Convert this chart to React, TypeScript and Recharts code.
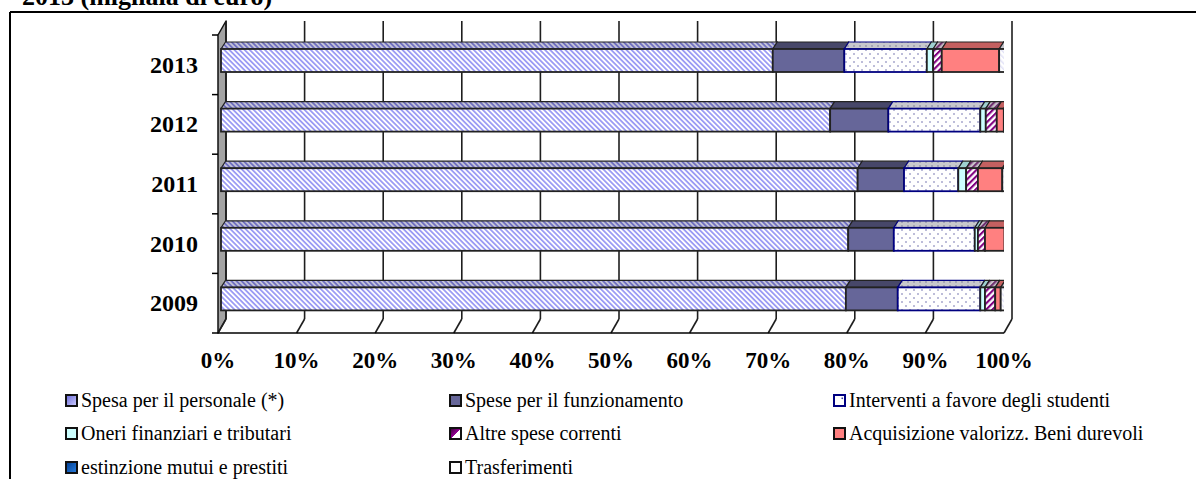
import React from 'react';
import { BarChart, Bar, XAxis, YAxis, CartesianGrid, Legend } from 'recharts';

// ---------- data ----------
const years = ['2013', '2012', '2011', '2010', '2009'];
const personale = [70.2, 77.5, 81.0, 79.8, 79.5];
const funzionamento = [9.1, 7.4, 5.9, 5.8, 6.6];
const studenti = [10.5, 11.7, 6.9, 10.3, 10.5];
const oneri = [0.8, 0.7, 1.0, 0.4, 0.6];
const altre = [1.1, 1.4, 1.5, 0.9, 1.3];
const acquisizione = [7.3, 0.9, 3.1, 2.5, 0.7];
const estinzione = [0, 0, 0, 0, 0];
const trasferimenti = [1.0, 0.4, 0.6, 0.3, 0.8];
const xTicks = [0, 10, 20, 30, 40, 50, 60, 70, 80, 90, 100];

const data = years.map((year, i) => ({
  year,
  personale: personale[i],
  funzionamento: funzionamento[i],
  studenti: studenti[i],
  oneri: oneri[i],
  altre: altre[i],
  acquisizione: acquisizione[i],
  estinzione: estinzione[i],
  trasferimenti: trasferimenti[i],
}));

// ---------- layout / style ----------
const W = 1196;
const H = 479;
const PLOT_LEFT = 218;
const PLOT_RIGHT = 1004;
const PLOT_TOP = 35;
const PLOT_BOTTOM = 333;
const XAXIS_H = 30;
const YAXIS_W = 60;
const DEPTH_X = 8;
const DEPTH_Y = 14;
const BAR_OX = 3;
const BAR_OY = -4;
const BAR_DX = 4.5;
const BAR_DY = 7;
const BAND = (PLOT_BOTTOM - PLOT_TOP) / years.length;
const FONT = '"Liberation Serif", "Times New Roman", serif';

type SeriesCfg = {
  key: string;
  name: string;
  front: string;
  top: string;
  side: string;
  stroke: string;
  swatch: string;
  swatchStroke: string;
};

const series: SeriesCfg[] = [
  { key: 'personale', name: 'Spesa per il personale (*)', front: 'url(#pPers)', top: 'url(#pPersTop)', side: '#7a7aa8', stroke: '#222', swatch: 'url(#gPers)', swatchStroke: '#111' },
  { key: 'funzionamento', name: 'Spese per il funzionamento', front: '#666699', top: '#474769', side: '#3c3c5a', stroke: '#222', swatch: '#666699', swatchStroke: '#111' },
  { key: 'studenti', name: 'Interventi a favore degli studenti', front: 'url(#pDots)', top: 'url(#pDotsTop)', side: '#9a9ab8', stroke: '#000080', swatch: 'url(#gStud)', swatchStroke: '#000080' },
  { key: 'oneri', name: 'Oneri finanziari e tributari', front: '#ccffff', top: '#9fd0d0', side: '#7fb0b0', stroke: '#222', swatch: '#ccffff', swatchStroke: '#111' },
  { key: 'altre', name: 'Altre spese correnti', front: 'url(#pAltre)', top: 'url(#pAltreTop)', side: '#603060', stroke: '#222', swatch: 'url(#gAltre)', swatchStroke: '#111' },
  { key: 'acquisizione', name: 'Acquisizione valorizz. Beni durevoli', front: '#ff8080', top: '#c46060', side: '#9e4c4c', stroke: '#222', swatch: '#ff8080', swatchStroke: '#111' },
  { key: 'estinzione', name: 'estinzione mutui e prestiti', front: '#0066cc', top: '#004c99', side: '#003a77', stroke: '#222', swatch: 'url(#gEst)', swatchStroke: '#111' },
  { key: 'trasferimenti', name: 'Trasferimenti', front: 'url(#pTrasf)', top: '#c4c4cc', side: '#4a4a4a', stroke: '#222', swatch: '#ffffff', swatchStroke: '#111' },
];

const LEGEND_COLS = [65, 449, 833];
const LEGEND_ROWS = [400, 433, 467];
const LEGEND_TOP = 380;

// ---------- renderers ----------
function make3DShape(s: SeriesCfg) {
  return (props: any) => {
    const { x, y, width, height } = props;
    if (!width || width < 0.3 || !height) return <g />;
    const fx = x + BAR_OX;
    const fy = y + BAR_OY;
    const top = `${fx},${fy} ${fx + BAR_DX},${fy - BAR_DY} ${fx + width + BAR_DX},${fy - BAR_DY} ${fx + width},${fy}`;
    const side = `${fx + width},${fy} ${fx + width + BAR_DX},${fy - BAR_DY} ${fx + width + BAR_DX},${fy + height - BAR_DY} ${fx + width},${fy + height}`;
    return (
      <g>
        <polygon points={side} fill={s.side} stroke={s.stroke} strokeWidth={1.2} strokeLinejoin="round" />
        <polygon points={top} fill={s.top} stroke={s.stroke} strokeWidth={1.2} strokeLinejoin="round" />
        <rect x={fx} y={fy} width={width} height={height} fill={s.front} stroke={s.stroke} strokeWidth={1.8} />
      </g>
    );
  };
}

const renderVGrid = (props: any) => {
  const { x1, y1, y2, index } = props;
  const bx = x1 + DEPTH_X;
  return (
    <g key={`vg-${index}-${x1}`}>
      <line x1={bx} y1={y1 - DEPTH_Y} x2={bx} y2={y2 - DEPTH_Y} stroke="#1e1e1e" strokeWidth={1.6} />
      <line x1={bx} y1={y2 - DEPTH_Y} x2={x1} y2={y2} stroke="#1e1e1e" strokeWidth={1.6} />
    </g>
  );
};

const renderXTick = (props: any) => {
  const { x, y, payload } = props;
  return (
    <g>
      <text x={x} y={y + 35} textAnchor="middle" fontFamily={FONT} fontWeight="bold" fontSize={23} fill="#000">
        {`${payload.value}%`}
      </text>
    </g>
  );
};

const renderYTick = (props: any) => {
  const { x, y, payload, index } = props;
  const half = BAND / 2;
  return (
    <g>
      <text x={x - 20} y={y + 8} textAnchor="end" fontFamily={FONT} fontWeight="bold" fontSize={24} fill="#000">
        {payload.value}
      </text>
      <line x1={x - 6} x2={x} y1={y - half} y2={y - half} stroke="#000" strokeWidth={1.5} />
      {index === years.length - 1 ? (
        <line x1={x - 6} x2={x} y1={y + half} y2={y + half} stroke="#000" strokeWidth={1.5} />
      ) : null}
    </g>
  );
};

const LegendBox = () => (
  <div style={{ position: 'relative', width: W, height: H - LEGEND_TOP, fontFamily: FONT, fontSize: 20, color: '#000' }}>
    {series.map((s, i) => {
      const col = i % 3;
      const row = Math.floor(i / 3);
      const left = LEGEND_COLS[col];
      const cy = LEGEND_ROWS[row] - LEGEND_TOP;
      return (
        <div key={s.key} style={{ position: 'absolute', left, top: cy - 12, height: 24, display: 'flex', alignItems: 'center', whiteSpace: 'nowrap', lineHeight: '24px' }}>
          <svg width={13} height={13} style={{ marginRight: 3, flex: 'none' }}>
            <rect x={1} y={1} width={11} height={11} fill={s.swatch} stroke={s.swatchStroke} strokeWidth={2} />
          </svg>
          <span>{s.name}</span>
        </div>
      );
    })}
  </div>
);

const Background = () => (
  <svg width={W} height={H} style={{ position: 'absolute', left: 0, top: 0 }}>
    <defs>
      <pattern id="pPers" patternUnits="userSpaceOnUse" width={3.6} height={3.6} patternTransform="rotate(-45)">
        <rect x={0} y={0} width={3.6} height={3.6} fill="#ffffff" />
        <rect x={0} y={0} width={1.8} height={3.6} fill="#9c9cf4" />
      </pattern>
      <pattern id="pPersTop" patternUnits="userSpaceOnUse" width={3.6} height={3.6} patternTransform="rotate(-45)">
        <rect x={0} y={0} width={3.6} height={3.6} fill="#c4c4d8" />
        <rect x={0} y={0} width={1.8} height={3.6} fill="#7070c0" />
      </pattern>
      <pattern id="pAltre" patternUnits="userSpaceOnUse" width={4.4} height={4.4} patternTransform="rotate(45)">
        <rect x={0} y={0} width={4.4} height={4.4} fill="#ffffff" />
        <rect x={0} y={0} width={2.1} height={4.4} fill="#800080" />
      </pattern>
      <pattern id="pAltreTop" patternUnits="userSpaceOnUse" width={4.4} height={4.4} patternTransform="rotate(45)">
        <rect x={0} y={0} width={4.4} height={4.4} fill="#c8c0c8" />
        <rect x={0} y={0} width={2.1} height={4.4} fill="#703070" />
      </pattern>
      <pattern id="pDots" patternUnits="userSpaceOnUse" width={8} height={8}>
        <rect x={0} y={0} width={8} height={8} fill="#ffffff" />
        <circle cx={2} cy={2} r={0.75} fill="#5a5aa0" />
        <circle cx={6} cy={6} r={0.75} fill="#5a5aa0" />
      </pattern>
      <pattern id="pDotsTop" patternUnits="userSpaceOnUse" width={6} height={4}>
        <rect x={0} y={0} width={6} height={4} fill="#c8c8cc" />
        <circle cx={2} cy={2} r={0.7} fill="#6a6a8a" />
      </pattern>
      <pattern id="pTrasf" patternUnits="userSpaceOnUse" width={4} height={4} patternTransform="rotate(-45)">
        <rect x={0} y={0} width={4} height={4} fill="#ffffff" />
        <rect x={0} y={0} width={1.5} height={4} fill="#e2e2f6" />
      </pattern>
      <linearGradient id="gPers" x1="0" y1="0" x2="1" y2="1">
        <stop offset="0" stopColor="#6868d8" />
        <stop offset="1" stopColor="#d0d0ff" />
      </linearGradient>
      <linearGradient id="gAltre" x1="0" y1="0" x2="1" y2="1">
        <stop offset="0" stopColor="#300030" />
        <stop offset="0.5" stopColor="#900090" />
        <stop offset="0.52" stopColor="#ffffff" />
        <stop offset="1" stopColor="#ffffff" />
      </linearGradient>
      <linearGradient id="gEst" x1="0" y1="0" x2="1" y2="1">
        <stop offset="0" stopColor="#003c90" />
        <stop offset="1" stopColor="#2a80e0" />
      </linearGradient>
      <radialGradient id="gStud" cx="0.75" cy="0.3" r="0.4">
        <stop offset="0" stopColor="#000080" />
        <stop offset="0.3" stopColor="#ffffff" />
        <stop offset="1" stopColor="#ffffff" />
      </radialGradient>
    </defs>
    <text x={22} y={5} fontFamily={FONT} fontWeight="bold" fontSize={26} fill="#000">2013 (migliaia di euro)</text>
    <line x1={10} y1={12} x2={W} y2={12} stroke="#000" strokeWidth={2} />
    <line x1={10} y1={12} x2={10} y2={H} stroke="#000" strokeWidth={2} />
    <polygon
      points={`${PLOT_LEFT},${PLOT_TOP} ${PLOT_LEFT + DEPTH_X},${PLOT_TOP - DEPTH_Y} ${PLOT_LEFT + DEPTH_X},${PLOT_BOTTOM - DEPTH_Y} ${PLOT_LEFT},${PLOT_BOTTOM}`}
      fill="#a3a3a3"
      stroke="#111"
      strokeWidth={1.5}
      strokeLinejoin="round"
    />
  </svg>
);

export default function App() {
  return (
    <div style={{ position: 'absolute', left: 0, top: 0, width: W, height: H, background: '#fff' }}>
      <Background />
      <div style={{ position: 'absolute', left: 0, top: 0 }}>
        <BarChart
          width={W}
          height={H}
          data={data}
          layout="vertical"
          margin={{ top: PLOT_TOP, right: W - PLOT_RIGHT, bottom: H - PLOT_BOTTOM - XAXIS_H, left: PLOT_LEFT - YAXIS_W }}
          barSize={23}
        >
          <CartesianGrid horizontal={false} vertical={renderVGrid} stroke="#1e1e1e" />
          <XAxis
            type="number"
            domain={[0, 100]}
            ticks={xTicks}
            interval={0}
            height={XAXIS_H}
            tickSize={0}
            tickMargin={0}
            tickLine={false}
            axisLine={{ stroke: '#000', strokeWidth: 1.6 }}
            tick={renderXTick}
            allowDataOverflow
          />
          <YAxis
            type="category"
            dataKey="year"
            width={YAXIS_W}
            tickSize={0}
            tickMargin={0}
            tickLine={false}
            axisLine={false}
            tick={renderYTick}
            interval={0}
          />
          {series.map((s) => (
            <Bar
              key={s.key}
              dataKey={s.key}
              name={s.name}
              stackId="a"
              fill={s.swatch}
              isAnimationActive={false}
              shape={make3DShape(s)}
            />
          ))}
          <Legend
            layout="horizontal"
            verticalAlign="middle"
            align="center"
            wrapperStyle={{ left: 0, top: LEGEND_TOP, width: W, height: H - LEGEND_TOP }}
            content={() => <LegendBox />}
          />
        </BarChart>
      </div>
    </div>
  );
}
